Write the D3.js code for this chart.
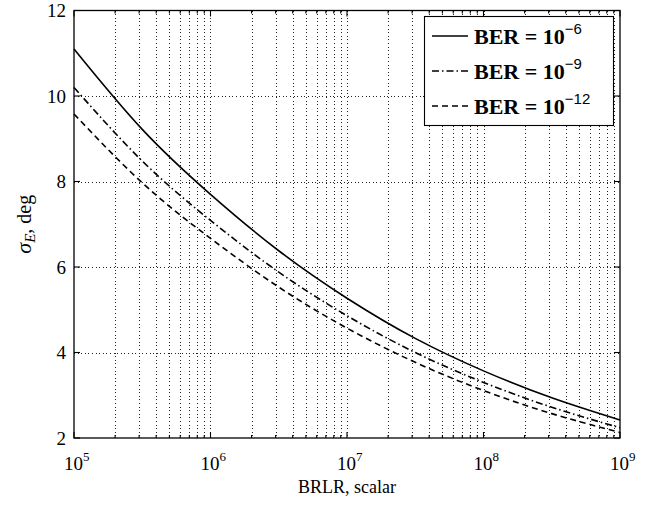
<!DOCTYPE html>
<html>
<head>
<meta charset="utf-8">
<script src="https://cdn.jsdelivr.net/npm/d3@7"></script>
<style>
  body { margin: 0; background: #fff; }
  svg { display: block; }
</style>
</head>
<body>
<svg id="chart" width="657" height="507"></svg>
<script>
// BRLR sample points (half decades) and sigma_E
const brlr = [1e5, 3.162e5, 1e6, 3.162e6, 1e7, 3.162e7, 1e8, 3.162e8, 1e9];
const sigmaBer6  = [11.1, 9.22, 7.7, 6.38, 5.27, 4.33, 3.57, 2.94, 2.42];
const sigmaBer9  = [10.2, 8.48, 7.09, 5.88, 4.86, 4.0, 3.3, 2.72, 2.24];
const sigmaBer12 = [9.58, 7.97, 6.67, 5.53, 4.57, 3.77, 3.11, 2.57, 2.13];

const seriesNames = ["−6", "−9", "−12"];
const yTicks = [2, 4, 6, 8, 10, 12];
const xDecades = [5, 6, 7, 8, 9];

const margin = { top: 10.5, right: 37, bottom: 69, left: 74 };
const W = 657, H = 507;

const svg = d3.select("#chart");
const x = d3.scaleLog().domain([1e5, 1e9]).range([margin.left, W - margin.right]);
const y = d3.scaleLinear().domain([2, 12]).range([H - margin.bottom, margin.top]);
const [x0, x1] = x.range();
const [y0, y1] = y.range();

const serif = "'Liberation Serif', 'Times New Roman', serif";

// minor positions: 2..9 x 10^k
const minor = [];
for (let k = 5; k < 9; k++) for (let m = 2; m <= 9; m++) minor.push(m * Math.pow(10, k));
const major = xDecades.map(k => Math.pow(10, k));

// dotted grid
const grid = svg.append("g")
  .attr("stroke", "#222")
  .attr("stroke-width", 1)
  .attr("stroke-dasharray", "1,2.6")
  .attr("shape-rendering", "crispEdges");
grid.selectAll("line.vx")
  .data(major.concat(minor).filter(v => v > 1e5 && v < 1e9))
  .enter().append("line")
    .attr("x1", d => Math.round(x(d)) + 0.5).attr("x2", d => Math.round(x(d)) + 0.5)
    .attr("y1", y1).attr("y2", y0);
grid.selectAll("line.hy")
  .data(yTicks.filter(v => v > 2 && v < 12))
  .enter().append("line")
    .attr("y1", d => Math.round(y(d)) + 0.5).attr("y2", d => Math.round(y(d)) + 0.5)
    .attr("x1", x0).attr("x2", x1);

// curves
const line = d3.line()
  .x((d, i) => x(brlr[i]))
  .y(d => y(d))
  .curve(d3.curveNatural);

const styles = [
  { data: sigmaBer6,  dash: null },
  { data: sigmaBer9,  dash: "7,3,1.5,3" },
  { data: sigmaBer12, dash: "6,4" }
];

const curveG = svg.append("g");
styles.forEach(s => {
  curveG.append("path")
    .attr("d", line(s.data))
    .attr("fill", "none")
    .attr("stroke", "#000")
    .attr("stroke-width", 1.6)
    .attr("stroke-dasharray", s.dash);
});

// frame
svg.append("rect")
  .attr("x", x0).attr("y", y1)
  .attr("width", x1 - x0).attr("height", y0 - y1)
  .attr("fill", "none").attr("stroke", "#000").attr("stroke-width", 1.3);

// ticks (inward, bottom/top, left/right)
const ticks = svg.append("g").attr("stroke", "#000").attr("stroke-width", 1.1);
major.forEach(v => {
  ticks.append("line").attr("x1", x(v)).attr("x2", x(v)).attr("y1", y0).attr("y2", y0 - 6);
  ticks.append("line").attr("x1", x(v)).attr("x2", x(v)).attr("y1", y1).attr("y2", y1 + 6);
});
minor.forEach(v => {
  ticks.append("line").attr("x1", x(v)).attr("x2", x(v)).attr("y1", y0).attr("y2", y0 - 3);
  ticks.append("line").attr("x1", x(v)).attr("x2", x(v)).attr("y1", y1).attr("y2", y1 + 3);
});
yTicks.forEach(v => {
  ticks.append("line").attr("x1", x0).attr("x2", x0 + 6).attr("y1", y(v)).attr("y2", y(v));
  ticks.append("line").attr("x1", x1).attr("x2", x1 - 6).attr("y1", y(v)).attr("y2", y(v));
});

// y tick labels
svg.append("g").selectAll("text")
  .data(yTicks)
  .enter().append("text")
    .attr("x", x0 - 8)
    .attr("y", d => y(d))
    .attr("dy", "0.35em")
    .attr("text-anchor", "end")
    .attr("font-family", serif)
    .attr("font-size", 19)
    .text(d => d);

// x tick labels: 10^k
const xl = svg.append("g");
xDecades.forEach(k => {
  const t = xl.append("text")
    .attr("x", x(Math.pow(10, k)) - 10)
    .attr("y", y0 + 32)
    .attr("font-family", serif)
    .attr("font-size", 19);
  t.append("tspan").text("10");
  t.append("tspan").attr("font-size", 13).attr("dy", -9).text(k);
});

// axis labels
svg.append("text")
  .attr("x", (x0 + x1) / 2)
  .attr("y", y0 + 55)
  .attr("text-anchor", "middle")
  .attr("font-family", serif)
  .attr("font-size", 18)
  .text("BRLR, scalar");

const yl = svg.append("text")
  .attr("transform", `translate(31,${(y0 + y1) / 2}) rotate(-90)`)
  .attr("text-anchor", "middle")
  .attr("font-family", serif)
  .attr("font-size", 20);
yl.append("tspan").attr("font-style", "italic").attr("font-size", 22).text("σ");
yl.append("tspan").attr("font-style", "italic").attr("font-size", 15).attr("dy", 4).text("E");
yl.append("tspan").attr("dy", -4).text(", deg");

// legend
const lg = svg.append("g");
const lx0 = 424, ly0 = 16, lw = 189, lh = 109;
lg.append("rect")
  .attr("x", lx0 + 0.5).attr("y", ly0 + 0.5)
  .attr("width", lw).attr("height", lh)
  .attr("fill", "#fff").attr("stroke", "#000").attr("stroke-width", 1.1);
styles.forEach((s, i) => {
  const cy = ly0 + 20 + i * 35;
  lg.append("line")
    .attr("x1", lx0 + 8).attr("x2", lx0 + 44)
    .attr("y1", cy).attr("y2", cy)
    .attr("stroke", "#000").attr("stroke-width", 1.6)
    .attr("stroke-dasharray", s.dash);
  const t = lg.append("text")
    .attr("x", lx0 + 50)
    .attr("y", cy + 8)
    .attr("font-family", serif)
    .attr("font-weight", "bold")
    .attr("font-size", 22);
  t.append("tspan").text("BER = 10");
  t.append("tspan")
    .attr("dy", -10)
    .attr("font-family", "'Liberation Sans', Arial, sans-serif")
    .attr("font-weight", "normal")
    .attr("font-size", 15)
    .text(seriesNames[i]);
});
</script>
</body>
</html>
